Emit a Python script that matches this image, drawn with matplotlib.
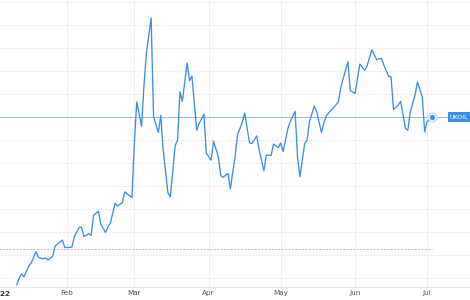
import matplotlib
matplotlib.use('Agg')
import matplotlib.pyplot as plt
import matplotlib.dates as mdates
import matplotlib.transforms as mtransforms
import pandas as pd

# Brent (UKOIL) 2022, precio diario
dias = [11, 12, 13, 14, 16, 17, 19, 20, 22, 23, 24, 26, 27, 28, 30, 31,
        33, 34, 35, 37, 38, 39, 41, 42, 43, 45, 46, 48, 49, 50, 52, 53,
        55, 56, 57, 59, 60, 61, 63, 64, 65, 67, 68, 70, 71, 72, 74, 75,
        77, 78, 79, 80, 82, 83, 84, 86, 87, 89, 90, 92, 93, 95, 96, 97,
        99, 100, 102, 103, 105, 106, 108, 109, 111, 112, 114, 115, 117, 118, 120, 121,
        122, 124, 125, 127, 128, 129, 131, 132, 133, 135, 136, 138, 139, 140, 142, 143,
        145, 146, 147, 149, 150, 152, 153, 154, 156, 157, 159, 160, 161, 163, 164, 166,
        167, 168, 170, 171, 173, 174, 175, 177, 178, 180, 181, 182, 184]
precio = [82.8, 84.0, 84.7, 84.2, 86.1, 86.6, 88.6, 87.6, 87.3, 87.5, 87.1, 87.8, 89.6, 89.9, 90.6, 89.3,
          89.3, 89.4, 91.2, 92.8, 92.8, 91.2, 91.7, 91.4, 94.9, 95.6, 93.4, 91.9, 92.9, 93.6, 97.0, 96.5,
          97.1, 99.0, 98.6, 98.0, 107.4, 114.6, 110.4, 117.4, 123.1, 129.2, 112.1, 109.3, 112.3, 106.3, 98.8, 98.1,
          107.0, 108.0, 116.4, 114.7, 121.4, 118.3, 119.1, 109.7, 110.9, 112.5, 105.7, 104.5, 107.8, 105.1, 101.8, 101.5,
          102.2, 99.5, 105.1, 108.9, 111.1, 112.7, 107.5, 107.4, 108.7, 106.3, 102.6, 105.4, 105.3, 107.3, 106.7, 107.5,
          106.0, 110.0, 111.2, 113.0, 105.1, 101.6, 107.4, 108.0, 111.2, 113.9, 112.9, 109.3, 111.0, 112.2, 113.2, 113.6,
          114.6, 117.0, 118.6, 121.6, 116.6, 116.1, 118.7, 121.2, 120.1, 120.9, 123.7, 122.8, 122.0, 122.2, 121.0, 119.1,
          119.0, 113.3, 114.1, 114.7, 110.0, 109.7, 112.9, 115.8, 118.1, 115.5, 109.4, 111.2, 112.0]
nivel_ref = 89.0
simbolo = 'UKOIL'
anio = '2022'

inicio = pd.Timestamp('2022-01-01')
fechas = [inicio + pd.Timedelta(days=d - 1) for d in dias]

azul = '#3a8ee6'

fig = plt.figure(figsize=(4.7, 3.0), dpi=100)
ax = fig.add_axes([0, 0.0433, 1, 0.9567])

ax.plot(fechas, precio, color=azul, lw=0.95, zorder=3)

# linea del ultimo precio y marcador
ultimo = precio[-1]
ax.hlines(ultimo, inicio, fechas[-1] + pd.Timedelta(days=6.7), color='#8cc0ef', lw=0.7, zorder=2)
ax.hlines(nivel_ref, inicio, fechas[-1], color='#eba5a5', lw=0.7, linestyles=(0, (2, 1.5)), zorder=2)
ax.plot(fechas[-1], ultimo, 'o', ms=6.5, mfc='#e4f0fb', mec='#a9d1f3', mew=0.6, zorder=4)
ax.plot(fechas[-1], ultimo, 'o', ms=2.6, color=azul, zorder=5)
ax.text(fechas[-1] + pd.Timedelta(days=7.5), ultimo, simbolo, color='white', fontsize=4.6,
        va='center', ha='left', zorder=6,
        bbox=dict(boxstyle='square,pad=0.35', fc=azul, ec='none'))

ax.set_xlim(inicio + pd.Timedelta(days=3.0), inicio + pd.Timedelta(days=198.9))
ax.set_ylim(82.43, 132.35)

ax.set_yticks(range(84, 133, 4))
ax.xaxis.set_major_locator(mdates.MonthLocator())
ax.xaxis.set_major_formatter(mdates.DateFormatter('%b'))
ax.grid(True, color='#f0f0f0', lw=0.7, zorder=0)
ax.tick_params(axis='y', left=False, labelleft=False)
ax.tick_params(axis='x', length=0, pad=2.5, labelsize=5.2, labelcolor='#555555')

# la etiqueta del anio queda cortada por el borde izquierdo, como en el original
trans = mtransforms.blended_transform_factory(ax.transData, ax.transAxes)
ax.text(inicio + pd.Timedelta(days=3.3), -0.0155, anio, transform=trans, ha='center', va='top',
        fontsize=5.2, fontweight='bold', color='#333333', clip_on=False)

for s in ['top', 'left', 'right']:
    ax.spines[s].set_visible(False)
ax.spines['bottom'].set_color('#e6e6e6')
ax.spines['bottom'].set_linewidth(0.7)

fig.savefig('out.png', dpi=100)
